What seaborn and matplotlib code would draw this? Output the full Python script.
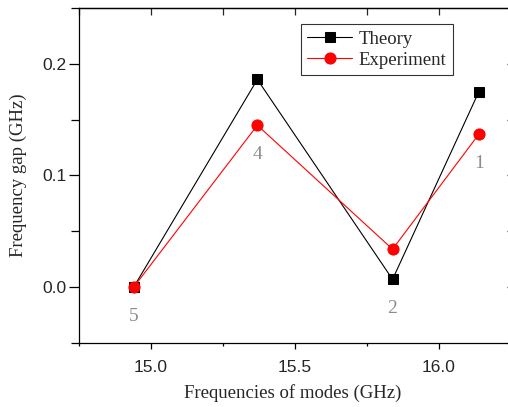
import matplotlib
matplotlib.use("Agg")
import matplotlib.pyplot as plt
import numpy as np
import pandas as pd
import seaborn as sns
from matplotlib.ticker import MultipleLocator, FormatStrFormatter

# ── Data ─────────────────────────────────────────────
mode_freq = [14.94, 15.37, 15.84, 16.14]
theory_gap = [0.0, 0.186, 0.007, 0.175]
experiment_gap = [0.0, 0.145, 0.034, 0.137]
mode_labels = ["5", "4", "2", "1"]

SERIF = "Liberation Serif"
SANS = "Liberation Sans"

sns.set_theme(style="ticks")
plt.rcParams["font.family"] = [SANS, "DejaVu Sans"]

df = pd.DataFrame({"freq": mode_freq, "theory": theory_gap, "exp": experiment_gap})

fig = plt.figure(figsize=(5.08, 4.07), dpi=100)
ax = fig.add_axes([79 / 508, 64 / 407, 431.5 / 508, 335 / 407])

sns.lineplot(data=df, x="freq", y="theory", ax=ax, color="black", lw=0.8,
             marker="s", markersize=7, markeredgecolor="black",
             sort=False, label="Theory")
sns.lineplot(data=df, x="freq", y="exp", ax=ax, color="red", lw=0.8,
             marker="o", markersize=8, markeredgecolor="red",
             sort=False, label="Experiment")

# mode numbers under the lower of the two points
for xv, t, e, lab in zip(mode_freq, theory_gap, experiment_gap, mode_labels):
    ax.annotate(lab, (xv, min(t, e)), xytext=(0, -21), textcoords="offset points",
                ha="center", va="center", color="#8c8c8c",
                fontsize=14, family=SERIF)

ax.set_xlim(14.75, 16.25)
ax.set_ylim(-0.05, 0.25)
ax.xaxis.set_major_locator(MultipleLocator(0.5))
ax.xaxis.set_minor_locator(MultipleLocator(0.25))
ax.yaxis.set_major_locator(MultipleLocator(0.1))
ax.yaxis.set_minor_locator(MultipleLocator(0.05))
ax.xaxis.set_major_formatter(FormatStrFormatter("%.1f"))
ax.yaxis.set_major_formatter(FormatStrFormatter("%.1f"))
ax.tick_params(which="both", direction="out", width=0.9, color="black",
               labelsize=12.5)
ax.tick_params(axis="x", which="major", length=4.5, pad=8)
ax.tick_params(axis="x", which="minor", length=2.5)
ax.tick_params(axis="y", which="major", length=7, pad=2)
ax.tick_params(axis="y", which="minor", length=5.5)

# inward ticks on top and right
top = ax.secondary_xaxis("top")
top.xaxis.set_major_locator(MultipleLocator(0.25))
top.tick_params(direction="in", length=5, width=0.9, labeltop=False)
right = ax.secondary_yaxis("right")
right.yaxis.set_major_locator(MultipleLocator(0.05))
right.tick_params(direction="in", length=3, width=0.9, labelright=False)
for a in (ax, top, right):
    for sp in a.spines.values():
        sp.set_linewidth(0.9)
        sp.set_color("black")

ax.set_xlabel("Frequencies of modes (GHz)", family=SERIF, fontsize=13.5)
ax.set_ylabel("Frequency gap (GHz)", family=SERIF, fontsize=13.5)
ax.xaxis.set_label_coords(0.496, -0.150)
ax.yaxis.set_label_coords(-0.141, 0.5)
ax.xaxis.label.set_va("center")
ax.yaxis.label.set_va("center")

leg = ax.legend(loc="upper right", bbox_to_anchor=(0.867, 0.952), borderaxespad=0,
                frameon=True, fancybox=False, handlelength=2.4,
                prop={"family": SERIF, "size": 13.5},
                labelspacing=0.2, borderpad=0.35, handletextpad=0.35)
leg.get_frame().set_edgecolor("black")
leg.get_frame().set_linewidth(0.8)

fig.savefig("out.png", dpi=100)
